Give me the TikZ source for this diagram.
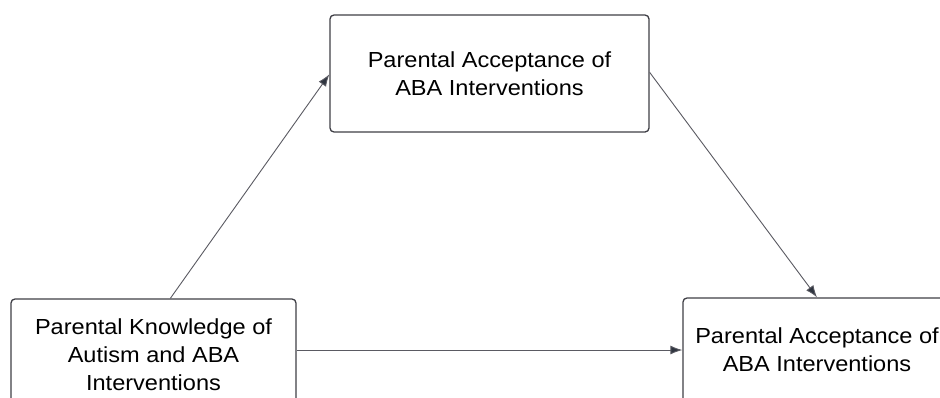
\documentclass[tikz,border=0pt]{standalone}
\usepackage{fontspec}
\setmainfont[FakeStretch=1.08]{Liberation Sans}
\usetikzlibrary{arrows.meta}
\definecolor{boxline}{HTML}{3F3F46}
\definecolor{arrline}{HTML}{5A5A62}
\definecolor{tipcol}{HTML}{2F3540}
\tikzset{
  boxnode/.style={draw=boxline, line width=1.3pt, rounded corners=4pt, fill=white,
    align=center, inner sep=0pt, font=\fontsize{21.8}{28}\selectfont, text=black},
  conn/.style={draw=arrline, line width=0.9pt, -{Latex[length=12pt,width=9pt,fill=tipcol]}}
}
\begin{document}
\begin{tikzpicture}[x=1pt,y=-1pt]
\useasboundingbox[clip] (0,0) rectangle (940,397);
\fill[white] (0,0) rectangle (940,397);
\node[boxnode, minimum width=319pt, minimum height=117pt] (topbox) at (489.5,73.5)
  {Parental Acceptance of\\ABA Interventions};
\node[boxnode, minimum width=285pt, minimum height=112pt] (leftbox) at (153.5,355)
  {Parental Knowledge of\\Autism and ABA\\Interventions};
\node[boxnode, minimum width=268pt, minimum height=104pt] (rightbox) at (817,350)
  {Parental Acceptance of\\ABA Interventions};
\draw[conn] ([xshift=160pt]leftbox.north west) -- ([yshift=-60pt]topbox.north west);
\draw[conn] ([yshift=-58pt]topbox.north east) -- (rightbox.north);
\draw[conn] (leftbox.east |- rightbox.west) -- (rightbox.west);
\end{tikzpicture}
\end{document}
